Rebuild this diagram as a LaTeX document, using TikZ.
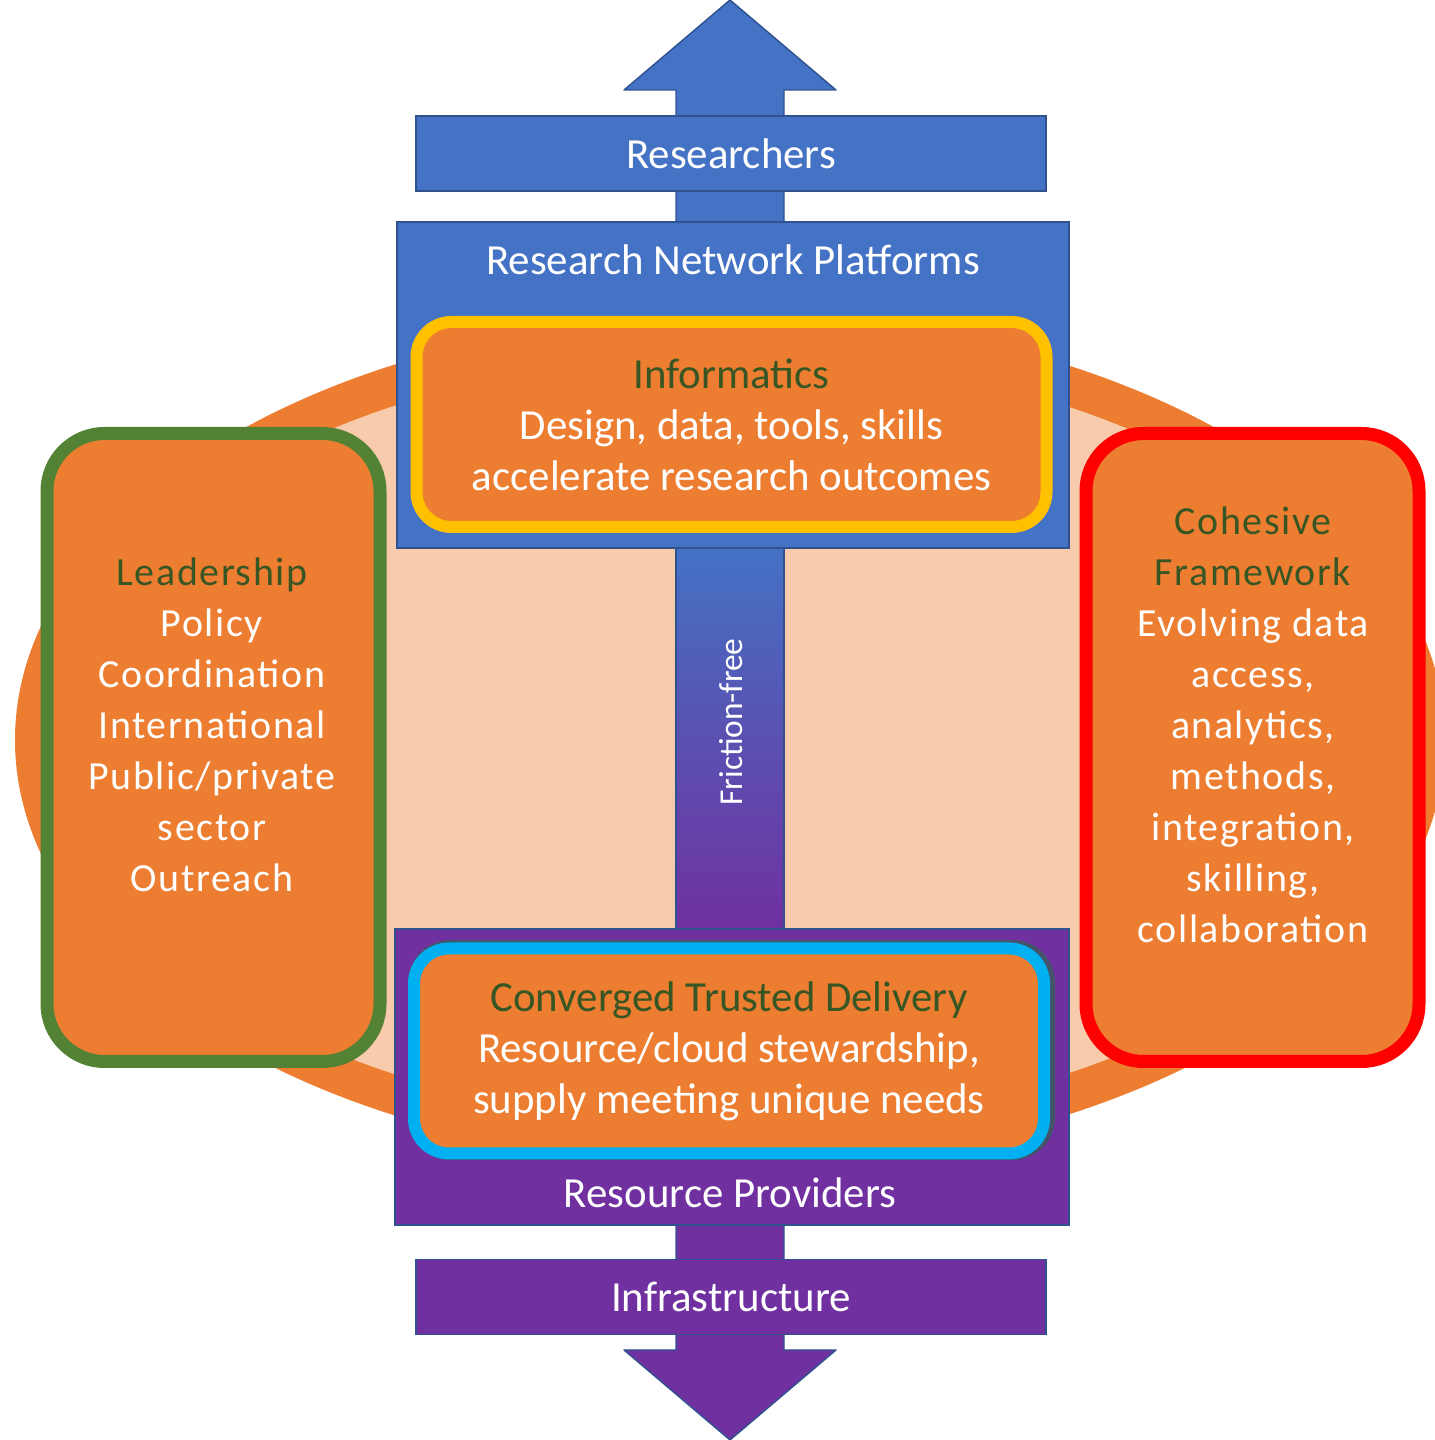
\documentclass[tikz,border=0pt]{standalone}
\usepackage{fontspec}
\setmainfont{Carlito}
\newfontfamily\widefont[LetterSpace=4]{Carlito}
\RequirePackage{tikz}
\RequirePackage{tkz-euclide}
\usetikzlibrary{calc}
\usetikzlibrary{positioning}

\definecolor{rnpblue}{HTML}{4472C4}
\definecolor{edgeblue}{HTML}{2F528F}
\definecolor{rppurple}{HTML}{7030A0}
\definecolor{boxorange}{HTML}{ED7D31}
\definecolor{ringpeach}{HTML}{F8CBAD}
\definecolor{headgreen}{HTML}{375623}
\definecolor{leadgreen}{HTML}{548235}
\definecolor{cohred}{HTML}{FF0000}
\definecolor{infoyellow}{HTML}{FFC000}
\definecolor{delcyan}{HTML}{00B0F0}
\definecolor{shadowgrey}{HTML}{44546A}

\tikzset{
  bigtext/.style={font=\fontsize{24.4}{29}\selectfont},
  bar/.style={draw=edgeblue, line width=0.8pt, minimum width=12.6cm,
    minimum height=1.5cm, text=white, bigtext},
  platform/.style={draw=edgeblue, line width=0.8pt},
  corebox/.style={fill=boxorange, line width=0.24cm, rounded corners=0.7cm,
    minimum width=12.6cm, minimum height=4.1cm, align=center,
    text=white, bigtext},
  sidebox/.style={fill=boxorange, line width=0.26cm, rounded corners=1.15cm,
    minimum width=6.66cm, minimum height=12.56cm},
  sidetext/.style={align=center, text=white,
    font=\widefont\fontsize{22.7}{29}\selectfont}
}

\begin{document}
\begin{tikzpicture}
                    \clip (0,0) rectangle (28.7,28.8);

                    % orange ring
                    \fill[boxorange] (14.6,14.0) ellipse [x radius=14.3cm, y radius=8.5cm];
                    \fill[ringpeach] (14.6,14.0) ellipse [x radius=13.5cm, y radius=7.7cm];

                    % up arrow
                    \tkzDefPoint(14.6,28.8){T}
                    \tkzDefPoint(12.48,27.0){TL}
                    \tkzDefPoint(16.72,27.0){TR}
                    \tkzDefPoint(13.52,27.0){TA}
                    \tkzDefPoint(15.68,27.0){TB}
                    \tkzDefPoint(13.52,24.3){TC}
                    \tkzDefPoint(15.68,24.3){TD}
                    \tkzDrawPolygon[draw=edgeblue,fill=rnpblue,line width=0.8pt](TC,TA,TL,T,TR,TB,TD)

                    % down arrow
                    \tkzDefPoint(14.6,0){B}
                    \tkzDefPoint(12.48,1.8){BL}
                    \tkzDefPoint(16.72,1.8){BR}
                    \tkzDefPoint(13.52,1.8){BA}
                    \tkzDefPoint(15.68,1.8){BB}
                    \tkzDefPoint(13.52,4.4){BC}
                    \tkzDefPoint(15.68,4.4){BD}
                    \tkzDrawPolygon[draw=edgeblue,fill=rppurple,line width=0.8pt](BC,BA,BL,B,BR,BB,BD)

                    % shaft between platforms
                    \shade[top color=rnpblue, bottom color=rppurple, draw=edgeblue, line width=0.8pt]
                        (13.52,10.2) rectangle (15.68,17.9);
                    \node[rotate=90, text=white, font=\fontsize{19}{23}\selectfont] (friction)
                        at (14.62,14.36) {Friction-free};

                    % platforms
                    \node[platform, fill=rnpblue, minimum width=13.44cm, minimum height=6.52cm]
                        (rnp) at (14.66,21.10) {};
                    \node[text=white, bigtext] (rnplabel) at (14.66,23.6) {Research Network Platforms};
                    \node[platform, fill=rppurple, minimum width=13.48cm, minimum height=5.92cm]
                        (rp) at (14.64,7.26) {};
                    \node[text=white, bigtext] (rplabel) at (14.6,4.94) {Resource Providers};

                    % end bars
                    \node[bar, fill=rnpblue] (researchers) at (14.62,25.73) {Researchers};
                    \node[bar, fill=rppurple] (infra) at (14.62,2.86) {Infrastructure};

                    % core boxes
                    \node[corebox, draw=infoyellow] (informatics) at (14.63,20.31)
                        {\textcolor{headgreen}{Informatics}\\Design, data, tools, skills\\accelerate research outcomes};
                    \fill[shadowgrey, rounded corners=0.85cm] (8.16,5.6) rectangle (21.1,10.0);
                    \node[corebox, draw=delcyan] (delivery) at (14.58,7.78)
                        {\textcolor{headgreen}{Converged Trusted Delivery}\\Resource/cloud stewardship,\\supply meeting unique needs};

                    % side boxes
                    \node[sidebox, draw=leadgreen] (lead) at (4.27,13.85) {};
                    \node[sidetext] (leadtext) at (4.24,14.3)
                        {\textcolor{headgreen}{Leadership}\\Policy\\Coordination\\International\\Public/private\\sector\\Outreach};
                    \node[sidebox, draw=cohred] (cohesive) at (25.05,13.85) {};
                    \node[sidetext] (cohtext) at (25.06,14.3)
                        {\textcolor{headgreen}{Cohesive}\\\textcolor{headgreen}{Framework}\\Evolving data\\access,\\analytics,\\methods,\\integration,\\skilling,\\collaboration};
                \end{tikzpicture}
\end{document}
